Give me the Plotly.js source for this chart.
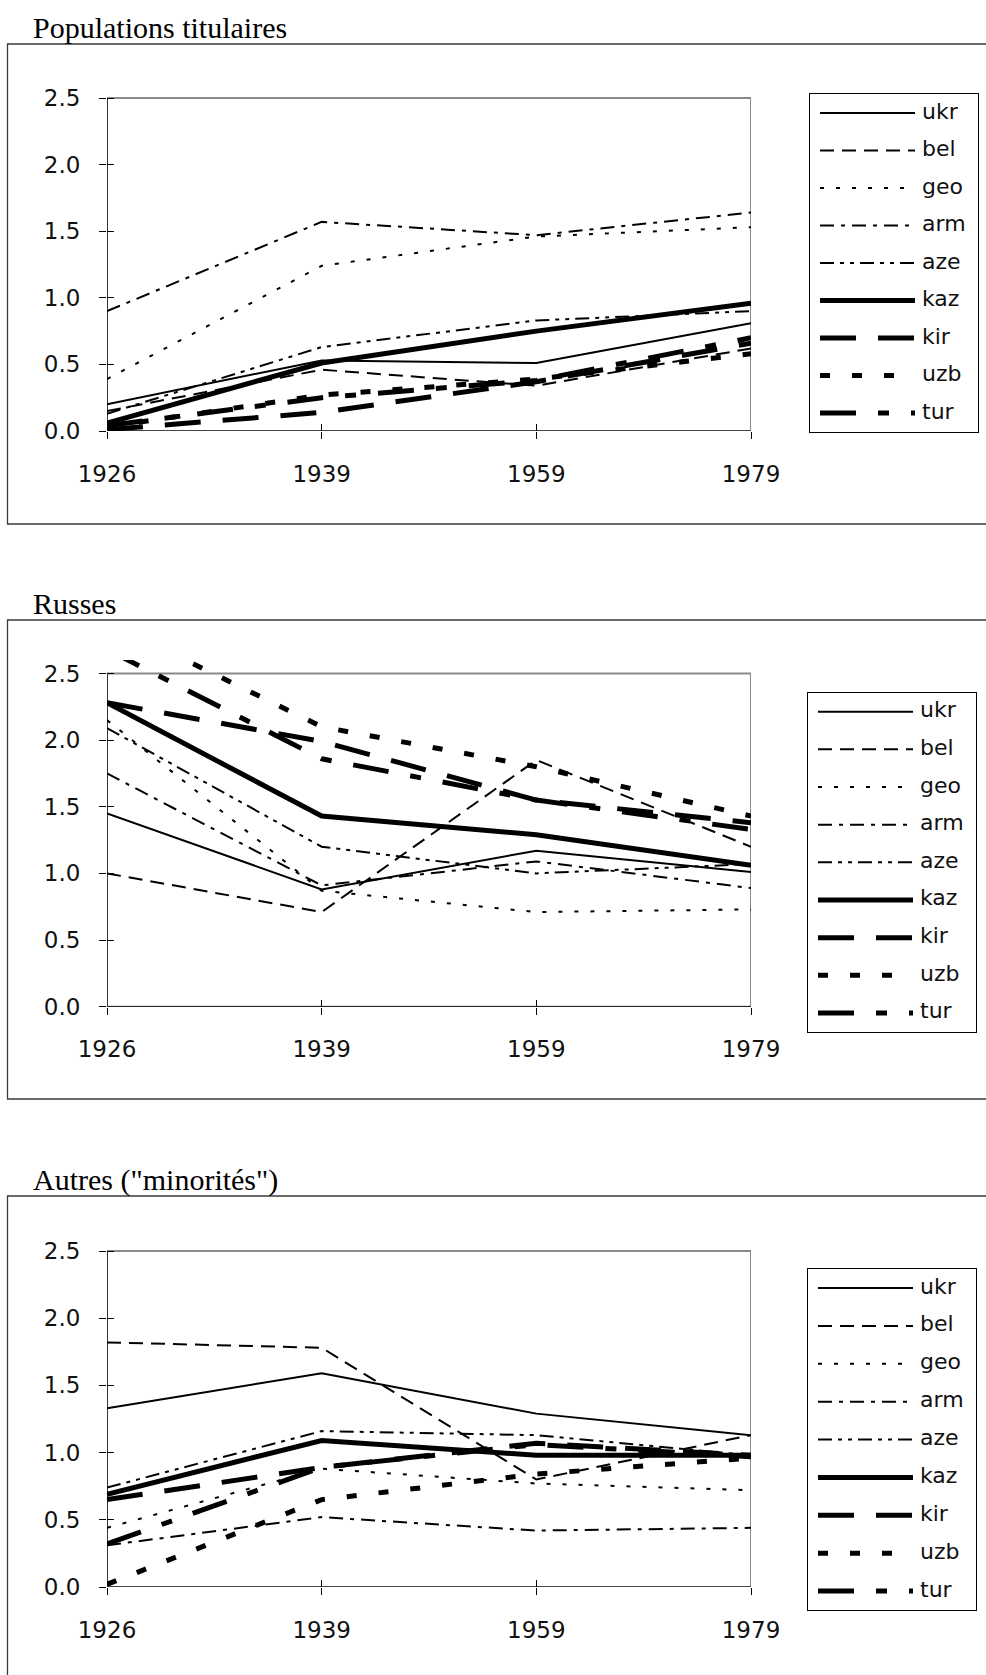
<!DOCTYPE html>
<html><head><meta charset="utf-8">
<script src="https://cdn.plot.ly/plotly-3.0.1.min.js"></script>
<style>html,body{margin:0;padding:0;background:#fff;} #chart{width:986px;height:1675px;}</style>
</head><body><div id="chart"></div>
<script>
// ---------- DATA ----------
const years = ['1926', '1939', '1959', '1979'];
const countries = ['ukr', 'bel', 'geo', 'arm', 'aze', 'kaz', 'kir', 'uzb', 'tur'];
const panelTitles = ['Populations titulaires', 'Russes', 'Autres ("minorités")'];
const yTickVals = [0, 0.5, 1, 1.5, 2, 2.5];
const yTickText = ['0.0', '0.5', '1.0', '1.5', '2.0', '2.5'];

// Populations titulaires
const tit_ukr = [0.20, 0.53, 0.51, 0.81];
const tit_bel = [0.15, 0.46, 0.34, 0.62];
const tit_geo = [0.39, 1.24, 1.46, 1.53];
const tit_arm = [0.90, 1.57, 1.47, 1.64];
const tit_aze = [0.13, 0.63, 0.83, 0.90];
const tit_kaz = [0.06, 0.51, 0.75, 0.96];
const tit_kir = [0.01, 0.14, 0.37, 0.66];
const tit_uzb = [0.03, 0.27, 0.39, 0.58];
const tit_tur = [0.04, 0.25, 0.38, 0.70];

// Russes
const rus_ukr = [1.45, 0.88, 1.17, 1.01];
const rus_bel = [1.00, 0.71, 1.85, 1.20];
const rus_geo = [2.15, 0.87, 0.71, 0.73];
const rus_arm = [1.75, 0.91, 1.09, 0.89];
const rus_aze = [2.09, 1.20, 1.00, 1.07];
const rus_kaz = [2.28, 1.43, 1.29, 1.06];
const rus_kir = [2.28, 1.99, 1.55, 1.38];
const rus_uzb = [2.89, 2.10, 1.80, 1.43];
const rus_tur = [2.68, 1.86, 1.55, 1.33];

// Autres ("minorités")
const aut_ukr = [1.33, 1.59, 1.29, 1.13];
const aut_bel = [1.82, 1.78, 0.80, 1.13];
const aut_geo = [0.44, 0.88, 0.77, 0.72];
const aut_arm = [0.31, 0.52, 0.42, 0.44];
const aut_aze = [0.74, 1.16, 1.13, 0.98];
const aut_kaz = [0.69, 1.09, 0.98, 0.98];
const aut_kir = [0.65, 0.89, 1.07, 0.98];
const aut_uzb = [0.02, 0.65, 0.84, 0.96];
const aut_tur = [0.32, 0.89, 1.06, 0.97];

// ---------- STYLES ----------
const lineStyles = {
  ukr: {width: 2, dash: 'solid'},
  bel: {width: 2, dash: '14px,8px'},
  geo: {width: 2, dash: '4px,12px'},
  arm: {width: 2, dash: '14px,7px,4px,7px'},
  aze: {width: 2, dash: '14px,6px,4px,6px,4px,6px'},
  kaz: {width: 5, dash: 'solid'},
  kir: {width: 5, dash: '36px,22px'},
  uzb: {width: 5, dash: '10px,22px'},
  tur: {width: 5, dash: '36px,22px,11px,22px'}
};

const panelData = [
  [tit_ukr, tit_bel, tit_geo, tit_arm, tit_aze, tit_kaz, tit_kir, tit_uzb, tit_tur],
  [rus_ukr, rus_bel, rus_geo, rus_arm, rus_aze, rus_kaz, rus_kir, rus_uzb, rus_tur],
  [aut_ukr, aut_bel, aut_geo, aut_arm, aut_aze, aut_kaz, aut_kir, aut_uzb, aut_tur]
];

// ---------- LAYOUT GEOMETRY (pixels) ----------
const W = 986, H = 1675;
const plotLeft = 107, plotRight = 751;
const yMax = 2.6;
const panels = [
  {frameTop: 44, frameBottom: 524, zeroY: 431, unit: 133.2, titleY: 27,
   leg: {x0: 810, x1: 978, y0: 94, y1: 432}},
  {frameTop: 620, frameBottom: 1099, zeroY: 1006.7, unit: 133.3, titleY: 603,
   leg: {x0: 808, x1: 976, y0: 692.7, y1: 1032}},
  {frameTop: 1196, frameBottom: 1690, zeroY: 1587, unit: 134.4, titleY: 1180,
   leg: {x0: 808, x1: 976, y0: 1269, y1: 1610}}
];
const px = v => v / W;
const py = v => 1 - v / H;

const tickFont = {family: '"DejaVu Sans", Verdana, sans-serif', size: 23, color: '#111'};
const legFont = {family: '"DejaVu Sans", Verdana, sans-serif', size: 22, color: '#111'};
const titleFont = {family: '"Liberation Serif", "Times New Roman", serif', size: 30, color: '#000'};

const traces = [];
const layout = {
  width: W, height: H,
  margin: {l: 0, r: 0, t: 0, b: 0, pad: 0},
  paper_bgcolor: '#fff', plot_bgcolor: 'rgba(0,0,0,0)',
  showlegend: false,
  shapes: [], annotations: []
};

panels.forEach((p, i) => {
  const k = i + 1, ko = i + 4, kl = i + 7;
  const xName = 'x' + (k === 1 ? '' : k), yName = 'y' + (k === 1 ? '' : k);
  const yTop = p.zeroY - p.unit * yMax;
  const dom = [py(p.zeroY), py(yTop)];

  layout['xaxis' + (k === 1 ? '' : k)] = {
    domain: [px(plotLeft), px(plotRight)], anchor: yName,
    type: 'category', range: [0, 3],
    showgrid: false, zeroline: false, showline: false,
    ticks: 'outside', ticklen: 7, tickwidth: 1, tickcolor: '#000',
    tickfont: tickFont, ticklabelstandoff: 15, fixedrange: true
  };
  layout['yaxis' + (k === 1 ? '' : k)] = {
    domain: dom, anchor: xName, range: [0, yMax],
    tickvals: yTickVals, ticktext: yTickText,
    showgrid: false, zeroline: false, showline: false,
    ticks: 'outside', ticklen: 7, tickwidth: 1, tickcolor: '#000',
    tickfont: tickFont, ticklabelstandoff: 14, fixedrange: true
  };
  // inner half of the crossing tick marks
  layout['xaxis' + ko] = {
    overlaying: xName, anchor: 'y' + ko, type: 'linear', range: [0, 3],
    tickvals: [0, 1, 2, 3], showticklabels: false,
    showgrid: false, zeroline: false, showline: false,
    ticks: 'inside', ticklen: 7, tickwidth: 1, tickcolor: '#000', fixedrange: true
  };
  layout['yaxis' + ko] = {
    overlaying: yName, anchor: 'x' + ko, range: [0, yMax],
    tickvals: yTickVals, showticklabels: false,
    showgrid: false, zeroline: false, showline: false,
    ticks: 'inside', ticklen: 7, tickwidth: 1, tickcolor: '#000', fixedrange: true
  };
  traces.push({x: [null], y: [null], xaxis: 'x' + ko, yaxis: 'y' + ko,
    mode: 'lines', hoverinfo: 'skip', showlegend: false});

  // legend box axes
  const lw = p.leg.x1 - p.leg.x0, lh = p.leg.y1 - p.leg.y0;
  layout['xaxis' + kl] = {
    domain: [px(p.leg.x0), px(p.leg.x1)], anchor: 'y' + kl, range: [0, lw],
    showgrid: false, zeroline: false, showticklabels: false, ticks: '',
    showline: true, mirror: true, linecolor: '#000', linewidth: 1, fixedrange: true
  };
  layout['yaxis' + kl] = {
    domain: [py(p.leg.y1), py(p.leg.y0)], anchor: 'x' + kl, range: [lh, 0],
    showgrid: false, zeroline: false, showticklabels: false, ticks: '',
    showline: true, mirror: true, linecolor: '#000', linewidth: 1, fixedrange: true
  };

  // data series
  countries.forEach((c, j) => {
    const st = lineStyles[c];
    traces.push({
      x: years, y: panelData[i][j], name: c, mode: 'lines',
      xaxis: xName, yaxis: yName,
      line: {color: '#000', width: st.width, dash: st.dash},
      hoverinfo: 'skip', showlegend: false
    });
  });

  // legend samples
  const step = (lh - 38) / (countries.length - 1);
  const legY = countries.map((c, j) => 19 + step * j);
  countries.forEach((c, j) => {
    const st = lineStyles[c];
    traces.push({
      x: [10, 105], y: [legY[j], legY[j]], mode: 'lines',
      xaxis: 'x' + kl, yaxis: 'y' + kl,
      line: {color: '#000', width: st.width, dash: st.dash},
      hoverinfo: 'skip', showlegend: false
    });
  });
  traces.push({
    x: countries.map(() => 112), y: legY, text: countries, mode: 'text',
    textposition: 'middle right', textfont: legFont,
    xaxis: 'x' + kl, yaxis: 'y' + kl, hoverinfo: 'skip', showlegend: false
  });

  // chart frame
  layout.shapes.push({type: 'rect', xref: 'paper', yref: 'paper',
    x0: px(7.5), x1: 1.02, y0: py(p.frameBottom), y1: py(p.frameTop),
    line: {color: '#3a3a3a', width: 1.3}, fillcolor: 'rgba(0,0,0,0)', layer: 'below'});
  // plot area border
  layout.shapes.push({type: 'rect', xref: 'x' + ko, yref: 'y' + ko,
    x0: 0, x1: 3, y0: 0, y1: 2.5,
    line: {color: '#8a8a8a', width: 2}, fillcolor: 'rgba(0,0,0,0)', layer: 'below'});
  // axes lines
  layout.shapes.push({type: 'line', xref: 'x' + ko, yref: 'y' + ko,
    x0: 0, x1: 0, y0: 0, y1: 2.5, line: {color: '#000', width: 1.2}, layer: 'below'});
  layout.shapes.push({type: 'line', xref: 'x' + ko, yref: 'y' + ko,
    x0: 0, x1: 3, y0: 0, y1: 0, line: {color: '#000', width: 1.2}, layer: 'below'});

  // panel title
  layout.annotations.push({text: panelTitles[i], xref: 'paper', yref: 'paper',
    x: px(31), y: py(p.titleY), xanchor: 'left', yanchor: 'middle',
    showarrow: false, font: titleFont});
});

Plotly.newPlot('chart', traces, layout, {staticPlot: true, displayModeBar: false});
</script>
</body></html>
